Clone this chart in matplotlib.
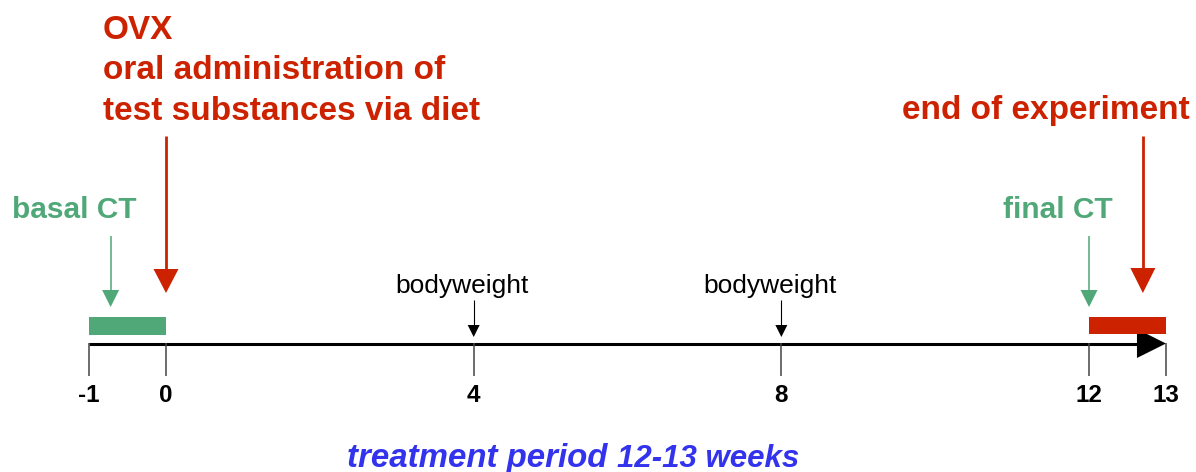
import matplotlib
matplotlib.use("Agg")
import matplotlib.pyplot as plt

plt.rcParams['font.family'] = ['Liberation Sans', 'DejaVu Sans']

# timeline data (weeks)
tick_weeks = [-1, 0, 4, 8, 12, 13]
tick_labels = ["-1", "0", "4", "8", "12", "13"]
basal_ct_span = (-1, 0)
final_span = (12, 13)
bodyweight_weeks = [4, 8]
basal_ct_week = -0.72
final_ct_week = 12
ovx_week = 0
end_week = 12.7

RED = "#CC2200"
GREEN = "#50A878"
BLUE = "#3333EE"
PX_PER_WEEK = 76.92  # horizontal scale of the picture


def down_arrow(ax, x, y0, y1, tip, head_w, lw, color):
    # shaft from y0 to y1, triangular head from y1 to tip (y in pixels)
    ax.plot([x, x], [y0, y1 + 1], color=color, lw=lw, solid_capstyle='butt')
    hw = head_w / 2 / PX_PER_WEEK
    ax.fill([x - hw, x + hw, x], [y1, y1, tip], color=color, lw=0)


fig = plt.figure(figsize=(11.96, 4.72), dpi=100)
ax = fig.add_axes([0, 0, 1, 1])
ax.set_xlim(-166 / PX_PER_WEEK, (1196 - 166) / PX_PER_WEEK)
ax.set_ylim(472, 0)
ax.axis('off')

# main time axis with arrow head
head_len = 29 / PX_PER_WEEK
ax.plot([tick_weeks[0], tick_weeks[-1] - head_len + 0.05], [343.5, 343.5],
        color='black', lw=2.2, solid_capstyle='butt')
ax.fill([tick_weeks[-1] - head_len, tick_weeks[-1] - head_len, tick_weeks[-1]],
        [329, 358, 343.5], color='black', lw=0)

# ticks and labels
ax.vlines(tick_weeks, 343, 376, color='#444444', lw=1.1)
for w, lab in zip(tick_weeks, tick_labels):
    ax.text(w, 402, lab, ha='center', va='baseline', fontsize=17.5,
            fontweight='bold', color='black')

# CT bars
ax.bar(basal_ct_span[0], 18, width=basal_ct_span[1] - basal_ct_span[0],
       bottom=317, align='edge', color=GREEN, lw=0)
ax.bar(final_span[0], 17, width=final_span[1] - final_span[0],
       bottom=317, align='edge', color=RED, lw=0)

# arrows
down_arrow(ax, basal_ct_week, 236, 290, 307, 17, 1.1, GREEN)
down_arrow(ax, final_ct_week, 236, 290, 307, 17, 1.1, GREEN)
down_arrow(ax, ovx_week, 136, 269, 293, 25, 2.0, RED)
down_arrow(ax, end_week, 136, 268, 293, 25, 2.0, RED)
for w in bodyweight_weeks:
    down_arrow(ax, w, 300, 325, 337, 12, 0.8, 'black')
    ax.text(w - 0.15, 293, "bodyweight", ha='center', va='baseline',
            fontsize=19, color='black')

# red annotations
ovx_lines = ["OVX", "oral administration of", "test substances via diet"]
for line, y in zip(ovx_lines, [39, 79, 120]):
    ax.text(-0.82, y, line, ha='left', va='baseline', fontsize=24,
            fontweight='bold', color=RED)
ax.text(13.31, 119, "end of experiment", ha='right', va='baseline',
        fontsize=24, fontweight='bold', color=RED)

# green annotations
ax.text(-2.0, 218, "basal CT", ha='left', va='baseline', fontsize=21.5,
        fontweight='bold', color=GREEN)
ax.text(10.88, 218, "final CT", ha='left', va='baseline', fontsize=21.5,
        fontweight='bold', color=GREEN)

# treatment period caption
ax.text(2.35, 467, "treatment period", ha='left', va='baseline', fontsize=23.8,
        fontweight='bold', style='italic', color=BLUE)
ax.text(5.86, 467, "12-13 weeks", ha='left', va='baseline', fontsize=22.5,
        fontweight='bold', style='italic', color=BLUE)

fig.savefig("out.png", dpi=100)
